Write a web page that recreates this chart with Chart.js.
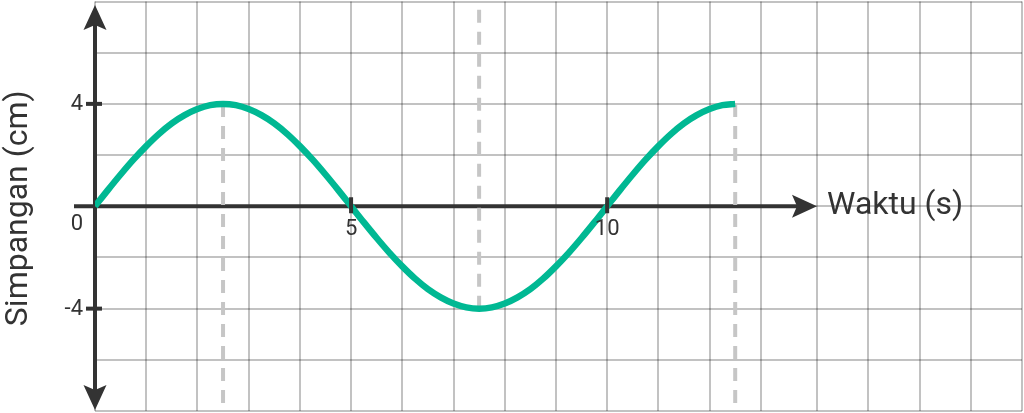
<!DOCTYPE html>
<html>
<head>
<meta charset="utf-8">
<script src="https://cdn.jsdelivr.net/npm/chart.js@4"></script>
<style>
html,body{margin:0;padding:0;background:#fff;}
#wrap{width:1024px;height:413px;position:relative;}
</style>
</head>
<body>
<div id="wrap"><canvas id="c" width="1024" height="413"></canvas></div>
<script>
// ---- data ----
const waktu = [0,0.25,0.5,0.75,1,1.25,1.5,1.75,2,2.25,2.5,2.75,3,3.25,3.5,3.75,4,4.25,4.5,4.75,5,
  5.25,5.5,5.75,6,6.25,6.5,6.75,7,7.25,7.5,7.75,8,8.25,8.5,8.75,9,9.25,9.5,9.75,10,
  10.25,10.5,10.75,11,11.25,11.5,11.75,12,12.25,12.5];
const simpangan = [0,0.63,1.24,1.82,2.35,2.83,3.24,3.56,3.8,3.95,4,3.95,3.8,3.56,3.24,2.83,2.35,1.82,1.24,0.63,0,
  -0.63,-1.24,-1.82,-2.35,-2.83,-3.24,-3.56,-3.8,-3.95,-4,-3.95,-3.8,-3.56,-3.24,-2.83,-2.35,-1.82,-1.24,-0.63,0,
  0.63,1.24,1.82,2.35,2.83,3.24,3.56,3.8,3.95,4];
const guideX = [2.5, 7.5, 12.5];
const guideFrom = [4, -4, 4];
const guideTo = [-8, 8, -8];
const gridX = [0,1,2,3,4,5,6,7,8,9,10,11,12,13,14.1,15.1,16.1,17.1,18.1];
const xTickLabels = [5, 10];
const yTickLabels = [4, -4];
const xTitle = 'Waktu (s)';
const yTitle = 'Simpangan (cm)';

const AXIS = '#333333';
const FONT = 'Roboto, "Noto Sans", sans-serif';

const curve = waktu.map((t,i)=>({x:t,y:simpangan[i]}));
const guides = guideX.map((gx,i)=>({
  data:[{x:gx,y:guideFrom[i]},{x:gx,y:guideTo[i]}],
  borderColor:'#c6c6c6', borderWidth:4, borderDash:[13,9],
  pointRadius:0, tension:0, borderCapStyle:'butt'
}));

const axesPlugin = {
  id:'axesPlugin',
  beforeDatasetsDraw(chart){
    const ctx = chart.ctx, xs = chart.scales.x, ys = chart.scales.y, ca = chart.chartArea;
    const ox = xs.getPixelForValue(0), oy = ys.getPixelForValue(0);
    ctx.save();
    ctx.strokeStyle = AXIS; ctx.fillStyle = AXIS; ctx.lineWidth = 4;
    ctx.beginPath(); ctx.moveTo(ox, ca.top+20); ctx.lineTo(ox, ca.bottom-20); ctx.stroke();
    const xEnd = ox + 722;
    ctx.beginPath(); ctx.moveTo(ox-21, oy); ctx.lineTo(xEnd-10, oy); ctx.stroke();
    const arrow = (tx,ty,dx,dy)=>{
      const L=25, W=11.5, N=5;
      const px=-dy, py=dx;
      ctx.beginPath();
      ctx.moveTo(tx,ty);
      ctx.lineTo(tx-dx*L+px*W, ty-dy*L+py*W);
      ctx.lineTo(tx-dx*(L-N), ty-dy*(L-N));
      ctx.lineTo(tx-dx*L-px*W, ty-dy*L-py*W);
      ctx.closePath(); ctx.fill();
    };
    arrow(ox, ca.top+3.5, 0, -1);
    arrow(ox, ca.bottom-1, 0, 1);
    arrow(xEnd, oy, 1, 0);
    ctx.restore();
  },
  afterDatasetsDraw(chart){
    const ctx = chart.ctx, xs = chart.scales.x, ys = chart.scales.y;
    const ox = xs.getPixelForValue(0), oy = ys.getPixelForValue(0);
    ctx.save();
    ctx.strokeStyle = AXIS; ctx.fillStyle = AXIS; ctx.lineWidth = 4;
    ctx.font = '22px ' + FONT;
    xTickLabels.forEach(v=>{
      const px = xs.getPixelForValue(v);
      ctx.beginPath(); ctx.moveTo(px, oy-9); ctx.lineTo(px, oy+7); ctx.stroke();
      ctx.textAlign='center'; ctx.textBaseline='middle';
      ctx.fillText(String(v), px, oy+23);
    });
    yTickLabels.forEach(v=>{
      const py = ys.getPixelForValue(v);
      ctx.beginPath(); ctx.moveTo(ox-9, py); ctx.lineTo(ox+7, py); ctx.stroke();
      ctx.textAlign='right'; ctx.textBaseline='middle';
      ctx.fillText(String(v), ox-12, py+1);
    });
    ctx.textAlign='right'; ctx.textBaseline='middle';
    ctx.fillText('0', ox-12, oy+18);
    ctx.font = '32px ' + FONT;
    ctx.textAlign='left'; ctx.textBaseline='middle';
    ctx.fillText(xTitle, ox+732, oy);
    ctx.translate(19, oy+2); ctx.rotate(-Math.PI/2);
    ctx.textAlign='center'; ctx.textBaseline='middle';
    ctx.fillText(yTitle, 0, 0);
    ctx.restore();
  }
};

new Chart(document.getElementById('c'), {
  type:'line',
  data:{
    datasets:[
      {data:curve, borderColor:'#00b893', borderWidth:6.5, pointRadius:0,
       cubicInterpolationMode:'monotone', borderCapStyle:'butt', fill:false},
      ...guides
    ]
  },
  options:{
    responsive:false, animation:false, devicePixelRatio:1,
    layout:{padding:{left:95, right:2, top:1.5, bottom:2}},
    plugins:{legend:{display:false}, tooltip:{enabled:false}},
    scales:{
      x:{type:'linear', min:0, max:18.1,
         afterBuildTicks(s){ s.ticks = gridX.map(v=>({value:v})); },
         ticks:{display:false}, border:{display:false},
         grid:{color:'rgba(0,0,0,0.24)', lineWidth:2, drawTicks:false}},
      y:{type:'linear', min:-8, max:8,
         ticks:{display:false, stepSize:2}, border:{display:false},
         grid:{color:'rgba(0,0,0,0.24)', lineWidth:2, drawTicks:false}}
    }
  },
  plugins:[axesPlugin]
});
</script>
</body>
</html>
